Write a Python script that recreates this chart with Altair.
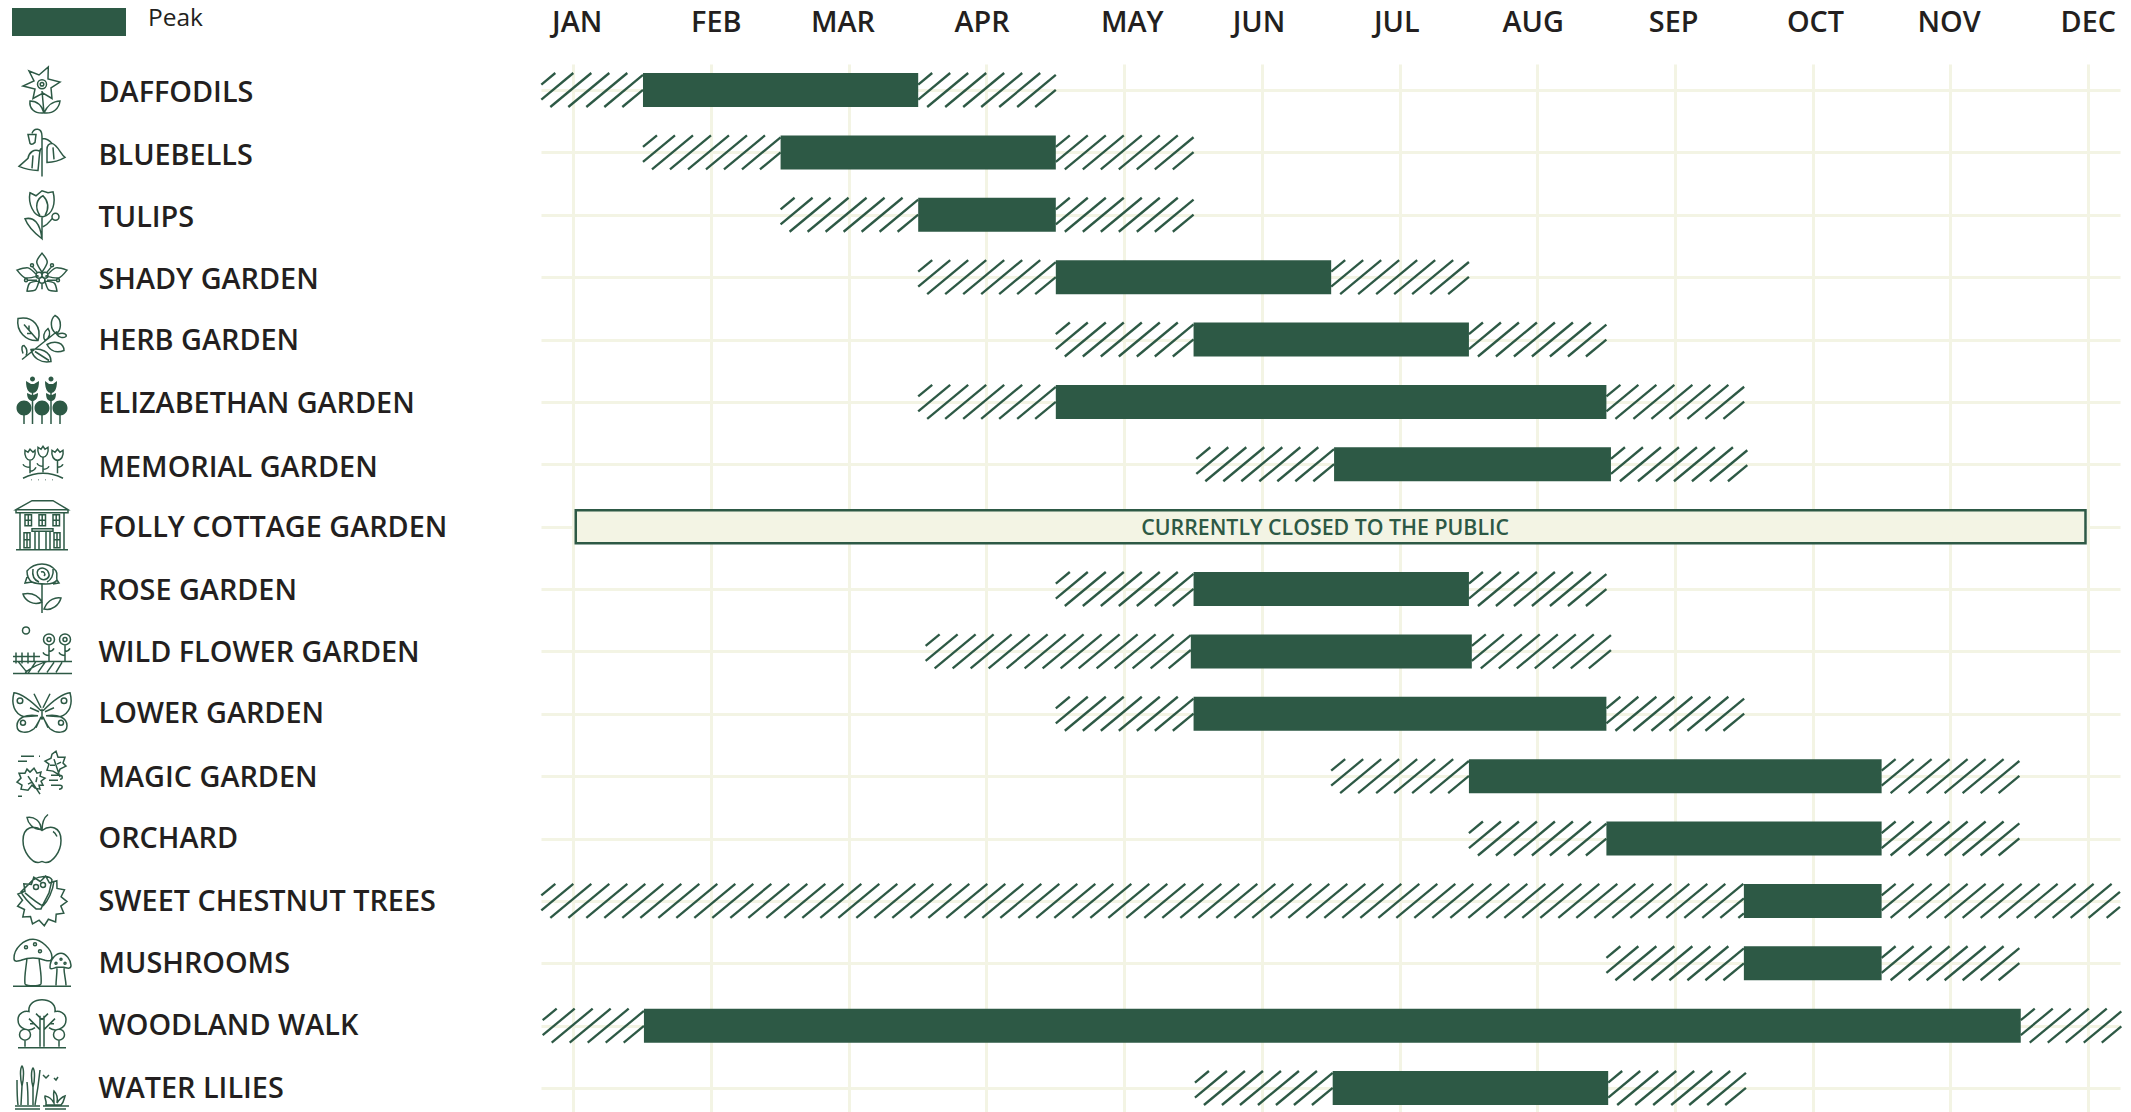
import math
import altair as alt
import pandas as pd

GREEN = "#2d5945"
GRID = "#f3f4e4"
INK = "#231f20"
FONT = "Open Sans"

months = ["JAN", "FEB", "MAR", "APR", "MAY", "JUN", "JUL", "AUG", "SEP", "OCT", "NOV", "DEC"]
month_label_pos = [0.03, 1.04, 1.96, 2.97, 4.06, 4.98, 5.98, 6.97, 7.99, 9.02, 9.99, 11.0]

rows = ["DAFFODILS", "BLUEBELLS", "TULIPS", "SHADY GARDEN", "HERB GARDEN", "ELIZABETHAN GARDEN",
        "MEMORIAL GARDEN", "FOLLY COTTAGE GARDEN", "ROSE GARDEN", "WILD FLOWER GARDEN", "LOWER GARDEN",
        "MAGIC GARDEN", "ORCHARD", "SWEET CHESTNUT TREES", "MUSHROOMS", "WOODLAND WALK", "WATER LILIES"]
# small vertical placement of each row's text relative to the row centre, in rows
label_shift = [0.06, 0.06, 0.06, 0.06, 0.04, 0.04, 0.07, 0.03, 0.04, 0.04, 0.02, 0.04, 0.02, 0.02, 0.02, 0.02, 0.02]

# season start, peak start, peak end, season end (in months, 0 = January gridline)
season_start = [-0.23, 0.508, 1.507, 2.506, 3.505, 2.506, 4.525, None, 3.505, 2.56, 3.505, 5.504, 6.504, -0.23, 7.502, -0.22, 4.515]
peak_start   = [0.508, 1.507, 2.506, 3.505, 4.505, 3.505, 5.525, None, 4.505, 4.485, 4.505, 6.504, 7.502, 8.5, 8.5, 0.515, 5.515]
peak_end     = [2.506, 3.505, 3.505, 5.504, 6.504, 7.502, 7.535, None, 6.504, 6.525, 7.502, 9.5, 9.5, 9.5, 9.5, 10.51, 7.515]
season_end   = [3.505, 4.505, 4.505, 6.504, 7.502, 8.502, 8.525, None, 7.502, 7.535, 8.502, 10.5, 10.5, 11.23, 10.5, 11.24, 8.515]

closed_row = 7
closed_from, closed_to = 0.02, 10.98
closed_text = "CURRENTLY CLOSED TO THE PUBLIC"
closed_text_pos = 5.46

PX_M = 137.75      # px per month
PX_R = 62.375      # px per row
W, H = 1579, 1048
X0 = 573 - 541     # px of Jan inside plot
Y0 = 26            # px of the first row inside plot
x_scale = alt.Scale(domain=[-X0 / PX_M, (W - X0) / PX_M], nice=False, zero=False)
y_scale = alt.Scale(domain=[(H - Y0) / PX_R, -Y0 / PX_R], nice=False, zero=False)
HALF = 17 / PX_R


def circ(cx, cy, r):
    return f"M{cx - r},{cy}A{r},{r} 0 1,0 {cx + r},{cy}A{r},{r} 0 1,0 {cx - r},{cy}Z"


def star(cx, cy, R, r, n, rot=0.0):
    pts = []
    for i in range(2 * n):
        a = rot + math.pi * i / n - math.pi / 2
        q = R if i % 2 == 0 else r
        pts.append(f"{cx + q * math.cos(a):.1f},{cy + q * math.sin(a):.1f}")
    return "M" + "L".join(pts) + "Z"


def box(x0, y0, x1, y1):
    return f"M{x0},{y0}L{x1},{y0}L{x1},{y1}L{x0},{y1}Z"


def petal(x0, y0, x1, y1, w):
    dx, dy = x1 - x0, y1 - y0
    L = math.hypot(dx, dy)
    nx, ny = -dy / L * w, dx / L * w
    mx, my = x0 + dx * 0.55, y0 + dy * 0.55
    return (f"M{x0},{y0}C{mx + nx:.1f},{my + ny:.1f} {mx + nx:.1f},{my + ny:.1f} {x1},{y1}"
            f"C{mx - nx:.1f},{my - ny:.1f} {mx - nx:.1f},{my - ny:.1f} {x0},{y0}Z")


icon_lines = [
    # daffodil
    "M6.3,-23L6,-11L18,-8L9,-2L10,8.5L1,3L-9,8.5L-7,-1L-19,-4L-8,-9L-13,-19L-3,-15Z"
    + circ(0, -5.7, 4.5) + circ(0, -5.7, 1.8)
    + "M0,1L2,23M2,23C-8,24 -13,18 -12,11C-5,11 0,16 2,23M2,23C12,24 17,18 18,11C11,11 5,16 2,23",
    # bluebells
    "M0,24L0,-16C0,-25 -8,-25 -10,-19M-14,-18L-6,-18L-7,-10Q-10,-7 -12,-9Z"
    "M-2,-1C-8,-4 -13,0 -14,6L-23,14C-16,17 -8,18 -4,18C-3,10 -3,4 -2,-1ZM0,-4C-1,-4 -2,-3 -2,-1M-9,3L-10,16"
    "M10,-9C6,-9 5,-6 5,-3L5,10C12,10 18,8 23,5C18,1 16,-7 10,-9ZM0,-14C3,-14 7,-13 10,-9M11,-5L12,7",
    # tulip
    "M-12,-22L-6,-19L0,-24L6,-22L11,-23C14,-12 11,0 1,2C-9,2 -14,-12 -12,-22Z"
    "M-2,1C-8,-8 -5,-16 1,-19C6,-14 8,-8 3,1M0,2L0,24M-17,4C-8,2 -2,8 0,24C-8,18 -14,12 -17,4Z"
    "M1,12C6,10 8,6 10,4" + circ(13.5, 2, 3.5),
    # shady garden
    petal(0, -5, 0, -24, 7) + petal(-4, -1, -25, -7, 7) + petal(4, -1, 25, -7, 7)
    + petal(-3, 4, -15, 14, 6) + petal(3, 4, 15, 14, 6) + circ(-3, -2, 3) + circ(3, -2, 3) + circ(0, 3, 3)
    + "M-5,-5L-10,-11M5,-5L10,-11M-5,3L-15,3M5,3L15,3M0,6L0,12"
    + circ(-10, -12, 1.5) + circ(10, -12, 1.5) + circ(-16, 3, 1.5) + circ(16, 3, 1.5),
    # herb garden
    "M-20,20L15,-8M-24,-21C-8,-24 0,-12 -4,1C-16,2 -26,-8 -24,-21ZM-18,-15L-4,1M-13,-9L-13,-14M-10,-6L-15,-6"
    "M13,-24C21,-20 19,-8 14,-6C8,-10 8,-20 13,-24ZM18,-6C22,-7 25,-5 24,-3C21,-1 17,-2 15,-5Z"
    "M6,-11C1,-7 1,-2 3,1C8,-2 9,-7 6,-11ZM5,5C14,0 22,4 22,11C14,14 8,11 5,5Z"
    "M-11,10C-2,8 9,12 9,22C-2,24 -9,18 -11,10ZM-7,12L7,21M-19,14C-21,8 -20,6 -18,6C-15,9 -14,12 -16,16",
    # elizabethan garden (stems)
    "M-18,6L-18,22M0,6L0,22M18,6L18,22M-9.5,-15L-9.5,22M9,-15L9,22",
    # memorial garden
    "M-17,-14L-14,-12L-12,-15L-9,-12L-7,-14C-6,-8 -9,-4 -12,-4C-15,-4 -18,-8 -17,-14Z"
    "M-4,-17L-1,-15L1,-18L3,-15L6,-17C7,-11 4,-7 1,-7C-2,-7 -5,-11 -4,-17Z"
    "M10,-14L13,-12L15.5,-15L18,-12L21,-14C22,-8 19,-4 15.5,-4C12,-4 9,-8 10,-14Z"
    "M-12,-4L-12,9M1,-7L1,8M15.5,-4L15.5,9M-12,3C-15,3 -18,2 -19,0M-12,7C-9,7 -7,5 -6,3M1,2C-2,2 -4,1 -5,-1M1,5C4,5 6,4 7,2"
    "M15.5,3C18,3 20,2 21,0M-19,14Q1,4 21,14M-11,15.5L-10.5,15.5M-4,15.5L-3.5,15.5M3,15.5L3.5,15.5M10,15.5L10.5,15.5",
    # folly cottage
    "M-10,-26L11,-26L26,-17L-26,-17ZM-26,-17L-26,-14L26,-14L26,-17M-22,-14L-22,23M22,-14L22,23M-26,23L26,23"
    + box(-17, -12, -10.5, -1) + box(-3, -12, 3.5, -1) + box(11, -12, 17.5, -1)
    + "M-17,-6.5L-10.5,-6.5M-13.7,-12L-13.7,-1M-3,-6.5L3.5,-6.5M0.2,-12L0.2,-1M11,-6.5L17.5,-6.5M14.2,-12L14.2,-1"
    + box(-18, 6, -12, 21) + box(12, 6, 18, 21) + "M-18,13L-12,13M12,13L18,13M-15,6L-15,21M15,6L15,21"
    + box(-10, 2, 11, 4.5) + "M-7,4.5L-7,23M8,4.5L8,23M-3,4.5L-3,23M4,4.5L4,23",
    # rose
    "M-15,-18C-10,-24 -5,-25 0,-25C6,-25 11,-22 14,-18C16,-15 14,-12 15,-9C13,-6 8,-5 4,-5C0,-5 -6,-5 -10,-7C-13,-9 -15,-13 -15,-18Z"
    "M-4,-19C0,-23 6,-20 7,-15C8,-11 3,-8 -1,-10C-4,-12 -6,-16 -4,-19ZM-1,-17C2,-18 4,-15 2,-13M-9,-20C-10,-14 -8,-9 -3,-7M11,-20C12,-14 9,-9 5,-7"
    "M-15,-12L-17,-6L-10,-7M15,-9L17,-6L11,-5M0,-5L0,24M0,13C-6,3 -14,4 -19,5C-17,12 -8,17 0,13Z"
    "M2,20C6,10 14,8 19,9C17,16 10,22 2,20Z",
    # wild flower garden
    circ(-16, -21, 3.5) + circ(7, -12, 5.5) + circ(7, -12, 2) + circ(23, -12, 5.5) + circ(23, -12, 2)
    + "M7,-6.5L7,10M23,-6.5L23,10M7,0C10,0 11,-1 12,-3M7,4C4,4 2,3 1,1M23,0C26,0 27,-1 28,-3M23,4C20,4 18,3 17,1"
    "M-29,10L30,10M-29,5L-2,5M-26,1L-26,12M-20,1L-20,12M-14,1L-14,12M-8,1L-8,10"
    "M-29,22L30,22M-24,10L-15,21M-14,22L-6,10M-4,21L3,11M5,21L12,11M14,21L20,11M-17,21C-10,16 -3,12 6,10",
    # butterfly
    "M-1,-3C-6,-8 -18,-20 -28,-21C-31,-10 -28,0 -18,3L-4,2M1,-3C6,-8 18,-20 28,-21C31,-10 28,0 18,3L4,2"
    "M-4,2C-16,0 -25,4 -25,12C-25,20 -14,20 -8,15C-5,12 -3,6 -1,4M4,2C16,0 25,4 25,12C25,20 14,20 8,15C5,12 3,6 1,4"
    "M-1,-6L-8,-20M1,-6L8,-20M0,-5L0,6M-1,3L-6,14M1,3L6,14M-3,-2L-12,-6M3,-2L12,-6"
    + circ(-22, -13, 2.8) + circ(22, -13, 2.8) + circ(-19, 9, 2.5) + circ(19, 9, 2.5),
    # magic garden
    "M-8,-8L-5,-3L-1,-4L-2,0L3,2L-1,5L1,9L-3,9L-2,13L-7,12L-10,9L-14,14L-21,13L-20,9L-25,6L-21,2L-23,-3L-17,-3L-15,-7L-12,-4Z"
    "M-14,0L-2,18M-14,8L-10,6M-6,6L-5,1M14,-25L16,-19L23,-19L21,-13L24,-10L18,-7L16,-2L11,-5L5,-6L7,-12L3,-15L9,-18L10,-22Z"
    "M12,-17L18,1M8,-11L13,-11M15,-12L19,-14M-21,-20L-8,-20M-3,-20L-2,-20M-24,-15L-15,-15M-24,20L-20,20"
    "M9,-1L18,-1C21,-1 21,3 18,3M7,4L16,4M9,9L18,9C21,9 21,13 17,13",
    # orchard apple
    "M0,-8C-8,-14 -19,-12 -19,2C-19,14 -10,24 -4,24C-2,24 -1,23 0,23C1,23 2,24 4,24C10,24 19,14 19,2C19,-12 8,-14 0,-8Z"
    "M0,-8C0,-15 2,-21 6,-24M-1,-9C-9,-9 -14,-15 -15,-21C-8,-22 -1,-18 -1,-9ZM11,-7C13,-6 14,-4 15,-2",
    # sweet chestnut
    star(0, 0, 25, 19.5, 13, 0.15)
    + "M-21,-9L-9,-21C-1,-26 8,-25 10,-21L7,-8C4,-2 1,3 -1,8L-6,8C-12,3 -18,-3 -21,-9Z"
    "M-17,-8C-10,-2 -4,3 1,5M12,-20C11,-10 6,0 1,5" + circ(-6, -14, 2.5) + circ(1, -16, 2.5),
    # mushrooms
    "M-28,-5C-28,-15 -18,-24 -9,-24C-1,-24 10,-14 10,-6C10,-2 7,-2 3,-3C-5,-6 -13,-6 -21,-3C-25,-2 -28,-1 -28,-5Z"
    "M-15,-5C-16,5 -18,14 -17,21M-3,-5C-2,5 0,14 -1,21M-17,21C-14,23 -4,23 -1,21"
    "M8,4C8,-4 14,-10 19,-10C24,-10 29,-3 29,2C29,6 26,5 22,4L15,4C11,5 8,7 8,4Z"
    "M15,5C15,11 14,17 14,22M22,5C22,11 24,17 24,22M-29,23L29,23"
    + circ(-16, -16, 1.5) + circ(-7, -19, 1.5) + circ(-2, -12, 1.5) + circ(19, -4, 1) + circ(14, 0, 1) + circ(23, 0, 1),
    # woodland walk
    "M-7,2C-13,7 -24,3 -24,-6C-24,-13 -17,-15 -13,-14C-14,-22 -7,-26 0,-26C7,-26 14,-22 13,-14C17,-15 24,-13 24,-6C24,3 13,7 7,2"
    "M-2,-10L-2,21M2,-10L2,21M-2,4L-13,-7M2,4L13,-7M0,-6L-6,-12M0,-6L6,-12M-8,-2L-12,-2M8,-2L12,-2"
    + circ(-17, 9, 5.5) + circ(17, 9, 5.5) + "M-17,14.5L-17,21M17,14.5L17,21M-24,22L24,22",
    # water lilies
    "M-20,-2C-22,-10 -22,-20 -20,-22C-18,-20 -18,-10 -20,-2ZM-20,-2L-21,17M-9,-1C-11,-8 -11,-18 -9,-20C-7,-18 -7,-8 -9,-1ZM-9,-1L-9,17"
    "M-25,-8C-25,0 -25,10 -24,17M-15,-6C-14,2 -14,10 -14,17M-2,-18C-3,-8 -5,6 -7,17M-27,18L-2,18M-27,21L-2,21"
    "M1,-13L4,-10L7,-13M12,-10L14,-8L16,-11M1,18L27,18M3,21L24,21"
    "M4,17C5,12 2,10 3,8C7,9 9,10 12,15C12,10 11,7 12,3C15,6 16,10 15,15C18,10 20,9 23,8C22,11 22,14 19,17Z",
]

# solid icon parts (Elizabethan garden heads and bushes)
icon_solid = [
    (5, circ(-18, 6, 7.5) + circ(0, 6, 7.5) + circ(18, 6, 7.5) + circ(-9.5, -23, 2.5) + circ(9, -23, 2.5)
     + "M-16,-21L-11,-18L-8,-18L-3,-21C-3,-12 -6,-9 -9.5,-9C-13,-9 -16,-12 -16,-21Z"
     + "M3,-21L7,-18L11,-18L15,-21C15,-12 12,-9 9,-9C6,-9 3,-12 3,-21Z"
     + "M-15,-9L-10.5,-7L-8.5,-7L-4,-9C-4,-3 -7,-1 -9.5,-1C-12,-1 -15,-3 -15,-9Z"
     + "M4,-9L8,-7L10,-7L14,-9C14,-3 12,-1 9,-1C6,-1 4,-3 4,-9Z"),
]

# ---- tables -------------------------------------------------------------
bars, hatch_rows = [], []
for r in range(len(rows)):
    if season_start[r] is None:
        continue
    bars.append({"a": peak_start[r], "b": peak_end[r], "y0": r - HALF, "y1": r + HALF})
    hatch_rows.append((r, season_start[r], peak_start[r]))
    hatch_rows.append((r, peak_end[r], season_end[r]))

SPACING = 18.0   # horizontal px between hatch strokes
RUN = 41.0       # horizontal px of one stroke across the bar height
PHASE = 9.0
hatch = []
for r, a, b in hatch_rows:
    pa, pb = a * PX_M, b * PX_M
    k = -3
    while pa + PHASE + k * SPACING < pb:
        xb = pa + PHASE + k * SPACING
        t0 = max(0.0, (pa - xb) / RUN)
        t1 = min(1.0, (pb - xb) / RUN)
        if t1 - t0 > 0.12:
            hatch.append({"x0": (xb + t0 * RUN) / PX_M, "x1": (xb + t1 * RUN) / PX_M,
                          "y0": r + HALF - 2 * HALF * t0, "y1": r + HALF - 2 * HALF * t1})
        k += 1

df_rows = pd.DataFrame({"row": range(len(rows)), "name": rows, "icon": icon_lines,
                        "ly": [i + s for i, s in enumerate(label_shift)]})
df_months = pd.DataFrame({"m": month_label_pos, "label": months})
df_bars = pd.DataFrame(bars)
df_hatch = pd.DataFrame(hatch)
df_closed = pd.DataFrame([{"a": closed_from, "b": closed_to, "y0": closed_row - 16.5 / PX_R,
                           "y1": closed_row + 16.5 / PX_R, "c": closed_text_pos, "row": closed_row,
                           "text": closed_text}])
df_solid = pd.DataFrame([{"row": r, "icon": p} for r, p in icon_solid])
df_legend = pd.DataFrame([{"label": "Peak"}])

X = lambda f, **k: alt.X(f, scale=x_scale, **k)
Y = lambda f, **k: alt.Y(f, scale=y_scale, **k)

grid = alt.Chart(df_rows).mark_point(opacity=0).encode(
    x=alt.X("row:Q", scale=x_scale, title=None,
            axis=alt.Axis(values=list(range(12)), labels=False, ticks=False, domain=False, grid=True,
                          gridColor=GRID, gridWidth=3, gridOpacity=1)),
    y=alt.Y("row:Q", scale=y_scale, title=None,
            axis=alt.Axis(values=list(range(17)), labels=False, ticks=False, domain=False, grid=True,
                          gridColor=GRID, gridWidth=3, gridOpacity=1)),
)

hatch_layer = alt.Chart(df_hatch).mark_rule(color=GREEN, strokeWidth=2.3).encode(
    x=X("x0:Q"), x2="x1:Q", y=Y("y0:Q"), y2="y1:Q")

bar_layer = alt.Chart(df_bars).mark_rect(color=GREEN).encode(
    x=X("a:Q"), x2="b:Q", y=Y("y0:Q"), y2="y1:Q")

closed_rect = alt.Chart(df_closed).mark_rect(fill=GRID, stroke=GREEN, strokeWidth=2.5).encode(
    x=X("a:Q"), x2="b:Q", y=Y("y0:Q"), y2="y1:Q")

closed_label = alt.Chart(df_closed).mark_text(font=FONT, fontSize=21.3, fontWeight=600, color=GREEN,
                                              baseline="middle", align="center", dy=2).encode(
    x=X("c:Q"), y=Y("row:Q"), text="text:N")

month_text = alt.Chart(df_months).mark_text(font=FONT, fontSize=28.8, fontWeight=600, color=INK,
                                            baseline="middle", align="center").encode(
    x=X("m:Q"), y=alt.value(-41.5), text="label:N")

row_text = alt.Chart(df_rows).mark_text(font=FONT, fontSize=28.8, fontWeight=600, color=INK,
                                        baseline="middle", align="left", dy=-0.5).encode(
    x=alt.value(-442.5), y=Y("ly:Q"), text="name:N")

icons = alt.Chart(df_rows).mark_point(filled=False, color=GREEN, strokeWidth=1.5, size=4, opacity=1).encode(
    x=alt.value(-499), y=Y("row:Q"), shape=alt.Shape("icon:N", scale=None, legend=None))

icons_solid = alt.Chart(df_solid).mark_point(filled=True, color=GREEN, size=4, opacity=1).encode(
    x=alt.value(-499), y=Y("row:Q"), shape=alt.Shape("icon:N", scale=None, legend=None))

legend_rect = alt.Chart(df_legend).mark_rect(color=GREEN).encode(
    x=alt.value(-529), x2=alt.value(-415), y=alt.value(-62), y2=alt.value(-28))

legend_text = alt.Chart(df_legend).mark_text(font=FONT, fontSize=24.5, color=INK, align="left",
                                             baseline="middle").encode(
    x=alt.value(-393), y=alt.value(-45), text="label:N")

chart = alt.layer(grid, hatch_layer, bar_layer, closed_rect, closed_label, month_text, row_text,
                  icons, icons_solid, legend_rect, legend_text).properties(
    width=W, height=H, background="white",
    padding={"left": 533, "top": 56, "right": 3, "bottom": 0},
    autosize=alt.AutoSizeParams(type="none"),
).configure_view(stroke=None)

chart.save("out.html", embed_options={"renderer": "svg", "actions": False})
